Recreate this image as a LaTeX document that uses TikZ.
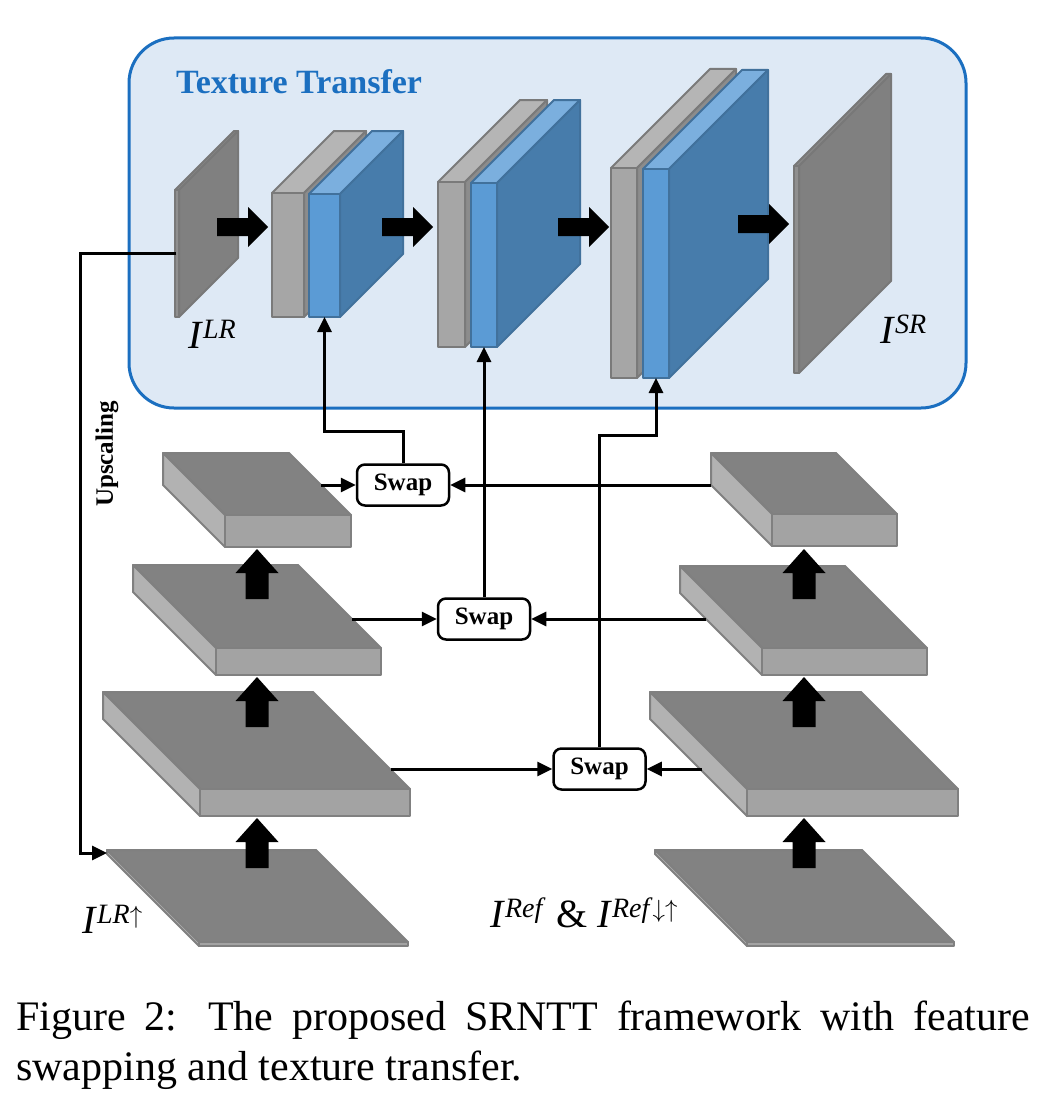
\documentclass[tikz,border=0pt]{standalone}
\usepackage{fontspec}
\setmainfont{Liberation Serif}
\usetikzlibrary{arrows.meta, positioning}

\definecolor{ttblue}{HTML}{1B6FC0}
\definecolor{ttfill}{HTML}{DEE9F5}
\definecolor{bfront}{HTML}{5B9BD5}
\definecolor{bside}{HTML}{477CAB}
\definecolor{btop}{HTML}{7BAFDE}
\definecolor{bline}{HTML}{41719C}
\definecolor{gline}{HTML}{7A7A7A}

\newcommand{\vslab}[6]{%
  \filldraw[#6 top] (#1,#2) -- ++(#5,-#5) -- ++(#3,0) -- ++(-#5,#5) -- cycle;
  \filldraw[#6 side] (#1+#3,#2) -- ++(#5,-#5) -- ++(0,#4) -- ++(-#5,#5) -- cycle;
  \filldraw[#6 front] (#1,#2) rectangle ++(#3,#4);}
\newcommand{\hlayer}[6]{%
  \filldraw[#6 top] (#1,#2) -- ++(#3,0) -- ++(#4,#4) -- ++(-#3,0) -- cycle;
  \filldraw[#6 side] (#1,#2) -- ++(#4,#4) -- ++(0,#5) -- ++(-#4,-#4) -- cycle;
  \filldraw[#6 front] (#1+#4,#2+#4) rectangle ++(#3,#5);}

\begin{document}
\begin{tikzpicture}[x=1pt,y=-1pt,>={Triangle[length=15pt,width=14pt]},
    slab/.style={draw=gline,line width=2pt,line join=round},
    grey top/.style={slab,fill=black!29},
    grey side/.style={slab,fill=black!45},
    grey front/.style={slab,fill=black!35},
    blue top/.style={slab,draw=bline,fill=btop},
    blue side/.style={slab,draw=bline,fill=bside},
    blue front/.style={slab,draw=bline,fill=bfront},
    flat top/.style={slab,draw=black!53,fill=black!47},
    flat side/.style={slab,draw=black!53,fill=black!50},
    flat front/.style={slab,draw=black!53,fill=black!44},
    layer top/.style={slab,draw=black!50,fill=black!49},
    layer side/.style={slab,draw=black!50,fill=black!30},
    layer front/.style={slab,draw=black!50,fill=black!36},
    swapbox/.style={draw,rounded corners=8pt,line width=2.5pt,fill=white,minimum width=92pt,
      minimum height=41pt,inner sep=0pt,font=\fontsize{25}{30}\selectfont\bfseries},
    lbl/.style={anchor=base west,inner sep=0pt,font=\fontsize{40}{48}\selectfont},
    captext/.style={anchor=base west,inner sep=0pt,font=\fontsize{42}{50}\selectfont},
    conn/.style={line width=3pt},
    fat right/.pic={\fill (0,-9) -- (31,-9) -- (31,-20) -- (51,0) -- (31,20) -- (31,9) -- (0,9) -- cycle;},
    fat up/.pic={\fill (-11.5,0) -- (-11.5,-26) -- (-21.5,-26) -- (0,-50) -- (21.5,-26) -- (11.5,-26) -- (11.5,0) -- cycle;}]

\useasboundingbox (0,0) rectangle (1046,1108);

\filldraw[draw=ttblue,fill=ttfill,line width=3pt,rounded corners=45pt] (129,38) rectangle (966,408);
\node[anchor=base west,inner sep=0pt,text=ttblue,font=\fontsize{34}{40}\selectfont\bfseries] (title) at (176,93) {Texture Transfer};

\vslab{175}{190}{4}{127}{59}{flat}
\vslab{272}{193}{32}{124}{62}{grey}
\vslab{309}{194}{31}{123}{63}{blue}
\vslab{438}{182}{27}{165}{82}{grey}
\vslab{471}{183}{26}{164}{83}{blue}
\vslab{611}{168}{26}{210}{99}{grey}
\vslab{643}{169}{26}{209}{99}{blue}
\vslab{794}{166}{5}{207}{92}{flat}

\pic at (217,227) {fat right};
\pic at (382,227) {fat right};
\pic at (558,227) {fat right};
\pic at (738,224) {fat right};

\node[lbl] (lr) at (188,348) {\textit{I}\textsuperscript{\textit{LR}}};
\node[lbl] (sr) at (880,343) {\textit{I}\textsuperscript{\textit{SR}}};
\node[lbl] (lrup) at (82,933) {\textit{I}\textsuperscript{\textit{LR}$\uparrow$}};
\node[lbl] (ref) at (490,927) {\textit{I}\textsuperscript{\textit{Ref}} \& \textit{I}\textsuperscript{\textit{Ref}$\downarrow\uparrow$}};

\hlayer{107}{850}{209}{92}{4}{layer}
\hlayer{103}{692}{210}{97}{27}{layer}
\hlayer{133}{565}{165}{83}{27}{layer}
\hlayer{163}{453}{126}{62}{32}{layer}
\hlayer{655}{850}{207}{92}{4}{layer}
\hlayer{650}{692}{211}{97}{27}{layer}
\hlayer{680}{566}{165}{82}{27}{layer}
\hlayer{711}{453}{125}{61}{32}{layer}

\foreach \y in {599,727,868} {
  \pic at (257,\y) {fat up};
  \pic at (804,\y) {fat up};
}

\node[rotate=90,font=\fontsize{25}{30}\selectfont\bfseries] (ups) at (107,454) {Upscaling};

\node[swapbox] (swapA) at (403,485) {Swap};
\node[swapbox] (swapB) at (484,619) {Swap};
\node[swapbox] (swapC) at (599.5,769) {Swap};

\coordinate (l3e) at (321,485);
\coordinate (r3w) at (711,485);
\coordinate (l2e) at (352,619);
\coordinate (r2w) at (706,619);
\coordinate (l1e) at (391,769);
\coordinate (r1w) at (702,769);
\coordinate (in1) at (324.5,317);
\coordinate (in2) at (484,347);
\coordinate (in3) at (656,378);
\coordinate (lrw) at (176,253);
\coordinate (lrin) at (107,853);
\coordinate (bend) at (80,853);

\draw[conn,->] (l3e) -- (swapA);
\draw[conn,->] (r3w) -- (swapA);
\draw[conn,->] (l2e) -- (swapB);
\draw[conn,->] (r2w) -- (swapB);
\draw[conn,->] (l1e) -- (swapC);
\draw[conn,->] (r1w) -- (swapC);
\draw[conn,->] (swapA.north) -- ++(0,-32) -| (in1);
\draw[conn,->] (swapB.north) -- (in2);
\draw[conn,->] (swapC.north) -- ++(0,-312) -| (in3);
\draw[conn,->] (lrw) -| (bend) -- (lrin);

\node[captext] (cap1) at (16,1030) {\makebox[1014pt][s]{Figure 2:  The proposed SRNTT framework with feature}};
\node[captext] (cap2) at (16,1080) {swapping and texture transfer.};
\end{tikzpicture}
\end{document}
